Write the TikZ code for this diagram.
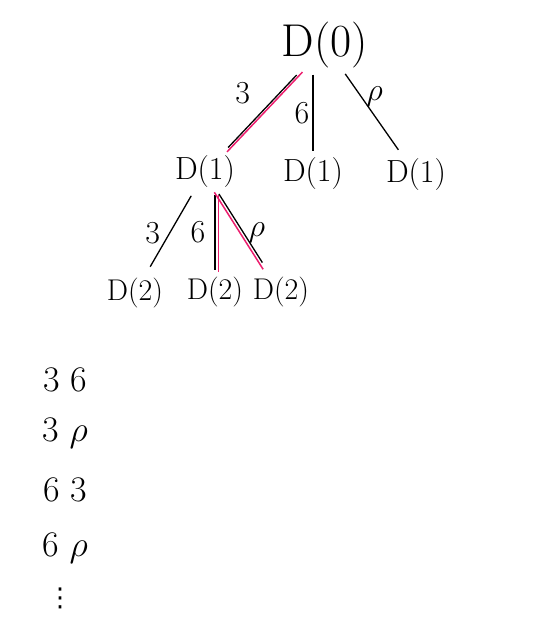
\RequirePackage{fix-cm}
\documentclass[tikz,border=0pt]{standalone}
\usepackage{fontspec}
\usetikzlibrary{positioning}
\newfontfamily\symfont{DejaVu Sans}
\definecolor{pinkred}{RGB}{236,30,110}
\tikzset{
  lvlzero/.style={font=\fontsize{46}{46}\selectfont,inner sep=2pt},
  lvlone/.style={font=\fontsize{32}{32}\selectfont,inner sep=2pt},
  lvltwo/.style={font=\fontsize{30}{30}\selectfont,inner sep=2pt},
  lbl/.style={font=\fontsize{32}{32}\selectfont,inner sep=3pt},
  combo/.style={font=\fontsize{36}{36}\selectfont},
  hilite/.style={pinkred,line width=1.5pt}
}
\begin{document}
\begin{tikzpicture}[x=1pt,y=-1pt,line width=1.3pt]
  \useasboundingbox (0,0) rectangle (553,639);
  % tree
  \node[lvlzero] (d0) at (325,45) {D(0)};
  \node[lvlone] (d1a) at (205,172) {D(1)};
  \node[lvlone] (d1b) at (313,174) {D(1)};
  \node[lvlone] (d1c) at (416,175) {D(1)};
  \node[lvltwo] (d2a) at (135,293) {D(2)};
  \node[lvltwo] (d2b) at (215,292) {D(2)};
  \node[lvltwo] (d2c) at (281,292) {D(2)};
  \draw[shorten <=6pt,shorten >=8pt] (d0) -- (d1a) node[lbl,midway,above left=4pt and 8pt] {3};
  \draw[hilite,shorten <=2pt,shorten >=2pt,transform canvas={xshift=3pt}] (d0) -- (d1a);
  \draw[shorten <=4pt,shorten >=4pt] (d1b.north |- d0.south) -- (d1b.north) node[lbl,midway,left] {6};
  \draw[shorten <=4pt,shorten >=8pt] (d0) -- (d1c) node[lbl,pos=0.3,right=2pt] {$\rho$};
  \draw[shorten <=6pt,shorten >=10pt] (d1a) -- (d2a) node[lbl,midway,left=6pt] {3};
  \draw[shorten <=4pt,shorten >=4pt] (d1a.south -| d2b.north) -- (d2b.north) node[lbl,midway,left=6pt] {6};
  \draw[hilite,shorten <=4pt,shorten >=2pt,transform canvas={xshift=3.5pt}] (d1a.south -| d2b.north) -- (d2b.north);
  \draw[shorten <=4pt,shorten >=14pt] (d1a) -- (d2c) node[lbl,midway,right=2pt] {$\rho$};
  \draw[hilite,shorten <=2pt,shorten >=6pt,transform canvas={xshift=-3.5pt}] (d1a) -- (d2c);
  % combinations
  \node[combo] (c1) at (65,380) {3 6};
  \node[combo] (c2) at (65,433) {3 $\rho$};
  \node[combo] (c3) at (65,490) {6 3};
  \node[combo] (c4) at (65,548) {6 $\rho$};
  \node[font=\fontsize{26}{26}\symfont] (c5) at (60,598) {⋮};
\end{tikzpicture}
\end{document}
